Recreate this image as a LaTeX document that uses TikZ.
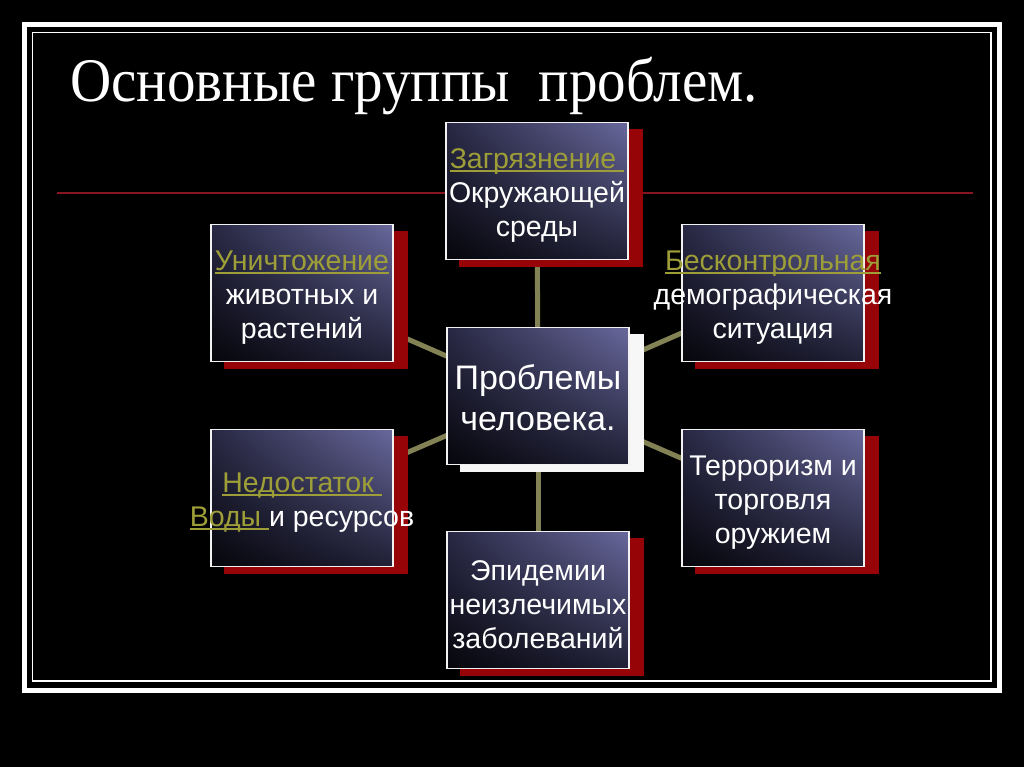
\documentclass[tikz,border=0pt]{standalone}
\usepackage{fontspec}
\setmainfont{Liberation Sans}
\newfontfamily\titlefont{Liberation Serif}
\usetikzlibrary{backgrounds,shadings}

\definecolor{olivetext}{RGB}{158,158,56}
\definecolor{linkcol}{RGB}{130,130,84}
\definecolor{shadowred}{RGB}{150,4,8}
\definecolor{rulered}{RGB}{135,22,34}
\definecolor{boxlight}{RGB}{104,104,156}
\definecolor{boxmid}{RGB}{40,40,68}
\definecolor{boxdark}{RGB}{6,6,12}

\newcommand{\undl}[1]{\setbox0\hbox{#1}\rlap{\rule[-4pt]{\wd0}{2.2pt}}\box0}
\newcommand{\hl}[1]{\textcolor{olivetext}{\undl{#1}}}

\begin{document}
\begin{tikzpicture}[x=1pt,y=-1pt]
  \tikzstyle{box}=[draw=white!90!gray, line width=1.5pt, minimum width=182pt, minimum height=137pt,
    inner sep=0pt, upper right=boxlight, upper left=boxmid, lower right=boxmid!80!black, lower left=boxdark]
  \tikzstyle{boxtext}=[text=white, align=center, yshift=-4.5pt, font=\fontsize{28.5}{34}\selectfont]
  \tikzstyle{hubtext}=[text=white, align=center, yshift=-1.5pt, font=\fontsize{34}{41}\selectfont]
  \tikzstyle{link}=[draw=linkcol, line width=5pt]
  \tikzstyle{shadow}=[fill=shadowred]

  \useasboundingbox (0,0) rectangle (1024,767);
  \draw[white, line width=5pt] (24.5,24.5) rectangle (999.5,690.5);
  \draw[white, line width=1.5pt] (32.5,32.5) rectangle (991,681);

  \node[anchor=base west, text=white, inner sep=0pt] (title) at (70,102)
    {\titlefont\fontsize{62}{70}\selectfont\scalebox{0.92}[1]{Основные группы~ проблем.}};

  \node[box, label={[hubtext]center:{Проблемы\\человека.}}] (hub) at (538,396) {};
  \node[box, label={[boxtext]center:{\hl{Загрязнение }\\Окружающей\\среды}}] (env) at (537,191) {};
  \node[box, label={[boxtext]center:{\hl{Уничтожение}\\животных и\\растений}}] (fauna) at (302,293) {};
  \node[box, label={[boxtext]center:{\hl{Бесконтрольная}\\демографическая\\ситуация}}] (demog) at (773,293) {};
  \node[box, label={[boxtext]center:{\hl{Недостаток }\\\hl{Воды }и ресурсов}}] (water) at (302,498) {};
  \node[box, label={[boxtext]center:{Терроризм и\\торговля\\оружием}}] (terror) at (773,498) {};
  \node[box, label={[boxtext]center:{Эпидемии\\неизлечимых\\заболеваний}}] (epid) at (538,600) {};

  \begin{scope}[on background layer]
    \fill[black] (0,0) rectangle (1024,767);
    \draw[rulered, line width=2.5pt] (57,193) -- (973,193);
    \foreach \n in {env,fauna,demog,water,terror,epid}
      \draw[link] (hub.center) -- (\n.center);
    \foreach \n in {env,fauna,demog,water,terror,epid}
      \fill[shadow] ([xshift=14pt,yshift=-7pt]\n.north west) rectangle ([xshift=14pt,yshift=-7pt]\n.south east);
    \fill[white!94!gray] ([xshift=14pt,yshift=-7pt]hub.north west) rectangle ([xshift=14pt,yshift=-7pt]hub.south east);
  \end{scope}
\end{tikzpicture}
\end{document}
